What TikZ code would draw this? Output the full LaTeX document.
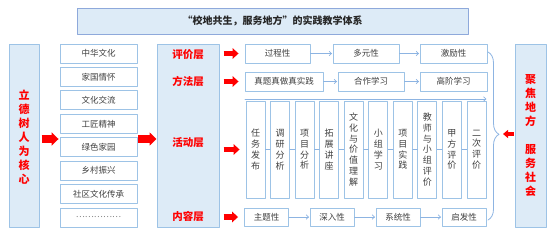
\documentclass[tikz,border=0pt]{standalone}
\usepackage{fontspec}
\setmainfont{Noto Sans CJK SC}
\usetikzlibrary{arrows.meta,decorations.pathreplacing}
\definecolor{boxline}{HTML}{9DC3E6}
\definecolor{boxfill}{HTML}{DDEBF7}
\definecolor{titleline}{HTML}{8EA9DB}
\definecolor{linkline}{HTML}{8DB4E2}
\definecolor{txtgray}{HTML}{404040}

\begin{document}
\begin{tikzpicture}[
		x=1pt,
		y=-1pt,
		line cap=round,
		line join=round,
		plain/.style={
			draw=boxline,
			fill=white,
			line width=0.9pt,
			inner sep=0pt,
			text=txtgray,
			font=\fontsize{8.5}{10}\selectfont
		},
		panel/.style={
			draw=boxline,
			fill=boxfill,
			line width=1pt,
			inner sep=0pt
		},
		redtext/.style={
			text=red,
			inner sep=0pt,
			align=center,
			font=\fontsize{10.5}{14}\selectfont\bfseries
		},
		bigred/.style={
			draw=red,
			line width=8pt,
			line cap=butt,
			-{Triangle[length=7pt,width=13pt]}
		},
		smallred/.style={
			draw=red,
			line width=5.5pt,
			line cap=butt,
			-{Triangle[length=6pt,width=10.5pt]},
			shorten <=4pt,
			shorten >=6pt
		},
		link/.style={
			draw=linkline,
			line width=0.7pt,
			-{Straight Barb[length=2.5pt,width=4.5pt]},
			shorten >=0.5pt
		}
		]
		
		% page
		\useasboundingbox (0,0) rectangle (552,234);
		
		% title
		\node[panel, draw=titleline, minimum width=391pt, minimum height=26pt,
		      font=\fontsize{10}{12}\selectfont\bfseries, text=black!85] (title) at (272.5,21)
		      {“校地共生，服务地方”的实践教学体系};
		
		% side panels and layer panel
		\node[panel, minimum width=30pt, minimum height=183pt] (leftbox)  at (24,135.5) {};
		\node[panel, minimum width=31pt, minimum height=183pt] (rightbox) at (530.5,135.5) {};
		\node[panel, minimum width=62pt, minimum height=183pt] (layer)    at (188,135.5) {};
		
		\node[redtext, font=\fontsize{11}{14}\selectfont\bfseries] at (24,137)
		      {立\\德\\树\\人\\为\\核\\心};
		\node[redtext, font=\fontsize{11}{14}\selectfont\bfseries] at (530.5,136)
		      {聚\\焦\\地\\方\\[14pt]服\\务\\社\\会};
		
		% layer labels
		\node[redtext] (lab1) at (188,55)  {评价层};
		\node[redtext] (lab2) at (188,81)  {方法层};
		\node[redtext] (lab3) at (188,143) {活动层};
		\node[redtext] (lab4) at (188,216) {内容层};
		
		% content list
		\foreach \txt [count=\i] in {中华文化,家国情怀,文化交流,工匠精神,绿色家园,乡村振兴,社区文化传承,{\textcolor{gray}{……………}}}
			\node[plain, minimum width=77pt, minimum height=19pt] (list\i) at (98.5,{53.5+23.43*(\i-1)}) {\txt};
		
		% evaluation row
		\node[plain, minimum width=65pt, minimum height=19pt] (p1) at (277.5,53.5) {过程性};
		\node[plain, minimum width=66pt, minimum height=19pt] (p2) at (366,53.5)   {多元性};
		\node[plain, minimum width=67pt, minimum height=19pt] (p3) at (453.5,53.5) {激励性};
		
		% method row
		\node[plain, minimum width=78pt, minimum height=19pt] (m1) at (284,81.5)   {真题真做真实践};
		\node[plain, minimum width=66pt, minimum height=19pt] (m2) at (371,81.5)   {合作学习};
		\node[plain, minimum width=67pt, minimum height=19pt] (m3) at (453.5,81.5) {高阶学习};
		
		% activity row
		\foreach \txt [count=\i] in {{任\\务\\发\\布},{调\\研\\分\\析},{项\\目\\分\\析},{拓\\展\\讲\\座},
			{文\\化\\与\\价\\值\\理\\解},{小\\组\\学\\习},{项\\目\\实\\践},{教\\师\\与\\小\\组\\评\\价},
			{甲\\方\\评\\价},{二\\次\\评\\价}}
			\node[plain, align=center, minimum width=19pt, minimum height=97pt,
			      font=\fontsize{9}{10.8}\selectfont] (act\i) at ({255.5+24.56*(\i-1)},149.5) {\txt};
		\foreach \i [evaluate=\i as \j using int(\i+1)] in {1,...,9}
			\draw[draw=linkline, line width=0.7pt] (act\i.east) -- (act\j.west);
		
		% content row
		\node[plain, minimum width=44pt, minimum height=18pt] (c1) at (266.5,217) {主题性};
		\node[plain, minimum width=44pt, minimum height=18pt] (c2) at (332,217)   {深入性};
		\node[plain, minimum width=44pt, minimum height=18pt] (c3) at (398,217)   {系统性};
		\node[plain, minimum width=44pt, minimum height=18pt] (c4) at (464,217)   {启发性};
		
		% row links
		\draw[link] (p1) -- (p2);
		\draw[link] (p2) -- (p3);
		\draw[link] (m1) -- (m2);
		\draw[link] (m2) -- (m3);
		\draw[link] (c1) -- (c2);
		\draw[link] (c2) -- (c3);
		\draw[link] (c3) -- (c4);
		
		% sequence line over the activities
		\coordinate (seqL) at (245,99);
		\coordinate (seqR) at (487,99);
		\draw[link] (seqL) -- (seqR);
		
		% brace
		\coordinate (braceT) at (488,52);
		\coordinate (braceB) at (488,220);
		\coordinate (braceTip) at (499,134);
		\draw[draw=linkline, line width=0.8pt,
		      decorate, decoration={brace, amplitude=11pt, aspect=0.49}] (braceT) -- (braceB);
		
		% red arrows
		\coordinate (mid) at (0,139);
		\draw[bigred, shorten <=2pt, shorten >=1pt] (leftbox.east |- mid) -- (list1.west |- mid);
		\draw[bigred, shorten <=1pt, shorten >=0pt] (list1.east |- mid) -- (layer.west |- mid);
		
		\draw[smallred] (layer.east |- p1) -- (p1.west);
		\draw[smallred] (layer.east |- m1) -- (m1.west);
		\draw[smallred] (layer.east |- act1) -- (act1.west);
		\draw[smallred] (layer.east |- c1) -- (c1.west);
		
		\draw[draw=red, line width=4pt, line cap=butt, -{Triangle[length=5pt,width=8pt]},
		      shorten <=1pt, shorten >=4pt] (rightbox.west |- braceTip) -- (braceTip);
\end{tikzpicture}
\end{document}
